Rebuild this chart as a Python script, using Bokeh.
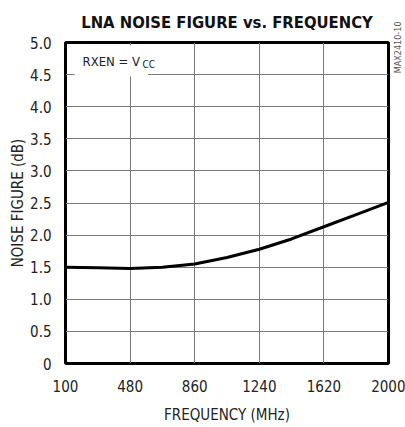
import numpy as np
from bokeh.plotting import figure
from bokeh.models import Range1d, FixedTicker, Label, PrintfTickFormatter
from bokeh.embed import file_html
from bokeh.resources import INLINE

# ---- data ----
freq_mhz = [100, 290, 480, 670, 860, 1050, 1240, 1430, 1620, 1810, 2000]
noise_figure_db = [1.50, 1.49, 1.48, 1.50, 1.55, 1.65, 1.78, 1.94, 2.13, 2.32, 2.51]
x_ticks = [100, 480, 860, 1240, 1620, 2000]
y_ticks = [0, 0.5, 1.0, 1.5, 2.0, 2.5, 3.0, 3.5, 4.0, 4.5, 5.0]
title_text = "LNA NOISE FIGURE vs. FREQUENCY"
x_label = "FREQUENCY (MHz)"
y_label = "NOISE FIGURE (dB)"
cond_text = "RXEN = V"
cond_sub = "CC"
code_text = "MAX2410-10"

FONT = "DejaVu Sans Condensed, Liberation Sans, sans-serif"

p = figure(width=405, height=427, output_backend="svg", toolbar_location=None,
           x_range=Range1d(100, 2000), y_range=Range1d(0, 5),
           min_border_left=65, min_border_right=17, min_border_top=42,
           min_border_bottom=64)
p.background_fill_color = "white"
p.border_fill_color = "white"
p.outline_line_color = "black"
p.outline_line_width = 3

p.line(freq_mhz, noise_figure_db, line_color="black", line_width=3)

for ax in (p.xaxis[0], p.yaxis[0]):
    ax.axis_line_color = None
    ax.major_tick_line_color = None
    ax.minor_tick_line_color = None
    ax.major_label_text_font = FONT
    ax.major_label_text_font_size = "15px"
    ax.major_label_text_color = "#222222"
    ax.axis_label_text_font = FONT
    ax.axis_label_text_font_size = "15px"
    ax.axis_label_text_font_style = "normal"
    ax.axis_label_text_color = "#222222"

p.xaxis.ticker = FixedTicker(ticks=x_ticks)
p.yaxis.ticker = FixedTicker(ticks=y_ticks)
p.yaxis.formatter = PrintfTickFormatter(format="%.1f")
p.yaxis.major_label_overrides = {0: "0"}
p.xaxis.axis_label = x_label
p.yaxis.axis_label = y_label
p.xaxis.major_label_standoff = 10
p.yaxis.major_label_standoff = 8
p.xaxis.axis_label_standoff = 11
p.yaxis.axis_label_standoff = 0

p.xgrid.ticker = FixedTicker(ticks=x_ticks)
p.ygrid.ticker = FixedTicker(ticks=y_ticks)
for g in (p.xgrid[0], p.ygrid[0]):
    g.grid_line_color = "#7a7a7a"
    g.grid_line_width = 1

# chart title, centred over the frame, in the top border panel
p.add_layout(Label(x=1050, y=5.316, text=title_text, text_align="center",
                   text_baseline="alphabetic", text_font=FONT,
                   text_font_size="16.5px", text_font_style="bold",
                   text_color="#111111"), "above")

# part code, vertical, in the right border panel
p.add_layout(Label(x=2053, y=4.52, text=code_text, angle=np.pi / 2,
                   text_align="left", text_baseline="middle", text_font=FONT,
                   text_font_size="9px", text_color="#555555"), "right")

# condition annotation with subscript
p.add_layout(Label(x=153, y=4.71, text=cond_text, text_align="left",
                   text_baseline="alphabetic", text_font=FONT,
                   text_font_size="13px", text_color="#222222",
                   background_fill_color="white", padding=8))
p.add_layout(Label(x=153, y=4.71, x_offset=66, y_offset=-3, text=cond_sub,
                   text_align="left", text_baseline="alphabetic",
                   text_font=FONT, text_font_size="10px",
                   text_color="#222222", background_fill_color="white",
                   padding=2))

open("out.html", "w").write(file_html(p, INLINE))
